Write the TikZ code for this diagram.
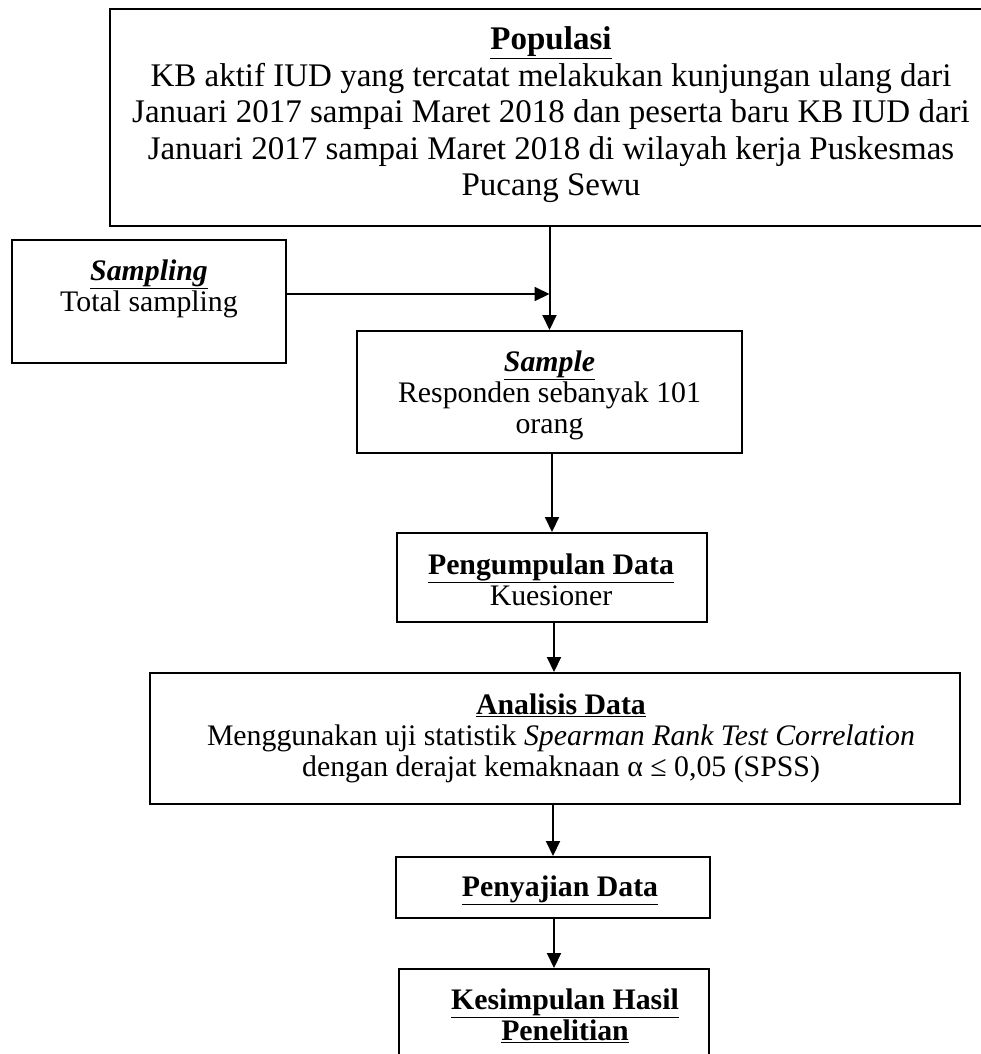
\documentclass[tikz,border=0pt]{standalone}
\usepackage{fontspec}
\setmainfont{Liberation Serif}
\usetikzlibrary{arrows.meta}
\begin{document}
\begin{tikzpicture}[x=1pt,y=-1pt,
  box/.style={draw,line width=2pt,inner sep=0pt,rectangle},
  arr/.style={line width=2pt,-{Triangle[length=15pt,width=14pt]}},
  txt/.style={align=center,inner sep=0pt,font=\fontsize{29.8}{31}\selectfont},
  bigtxt/.style={align=center,inner sep=0pt,font=\fontsize{33}{36.5}\selectfont}]
\useasboundingbox (0,0) rectangle (981,1054);
\clip (0,0) rectangle (981,1054);
% boxes
\node[box,minimum width=885pt,minimum height=217pt] (pop) at (552.5,117.5) {};
\node[box,minimum width=274pt,minimum height=123pt] (sampling) at (149,301.5) {};
\node[box,minimum width=385pt,minimum height=122pt] (sample) at (549.5,392) {};
\node[box,minimum width=310pt,minimum height=89pt] (collect) at (552,577.5) {};
\node[box,minimum width=810pt,minimum height=131pt] (analysis) at (555,738.5) {};
\node[box,minimum width=314pt,minimum height=61pt] (present) at (553,887.5) {};
\node[box,minimum width=310pt,minimum height=93pt] (concl) at (554,1015.5) {};
% texts
\node[bigtxt] (poptext) at (551,115) {\underline{\textbf{Populasi}}\\
KB aktif IUD yang tercatat melakukan kunjungan ulang dari\\
Januari 2017 sampai Maret 2018 dan peserta baru KB IUD dari\\
Januari 2017 sampai Maret 2018 di wilayah kerja Puskesmas\\
Pucang Sewu};
\node[txt] (samplingtext) at (149,289) {\underline{\textbf{\textit{Sampling}}}\\Total sampling};
\node[txt] (sampletext) at (549.5,395) {\underline{\textbf{\textit{Sample}}}\\Responden sebanyak 101\\orang};
\node[txt] (collecttext) at (551,580) {\underline{\textbf{Pengumpulan Data}}\\Kuesioner};
\node[txt] (analysistext) at (561,738) {\underline{\textbf{Analisis Data}}\\
Menggunakan uji statistik \textit{Spearman Rank Test Correlation}\\
dengan derajat kemaknaan α ≤ 0,05 (SPSS)};
\node[txt] (presenttext) at (560,890) {\underline{\textbf{Penyajian Data}}};
\node[txt] (concltext) at (565,1016) {\underline{\textbf{Kesimpulan Hasil}}\\\underline{\textbf{Penelitian}}};
% connectors
\draw[arr] (pop.south -| sample.north) -- (sample.north);
\draw[arr] ([yshift=7.5pt]sampling.east) -- ([yshift=7.5pt]sampling.east -| sample.north);
\draw[arr] (sample.south -| collect.north) -- (collect.north);
\draw[arr] ([xshift=2pt]collect.south) -- ([xshift=2pt]collect.south |- analysis.north);
\draw[arr] (analysis.south -| present.north) -- (present.north);
\draw[arr] (present.south -| concl.north) -- (concl.north);
\end{tikzpicture}
\end{document}
